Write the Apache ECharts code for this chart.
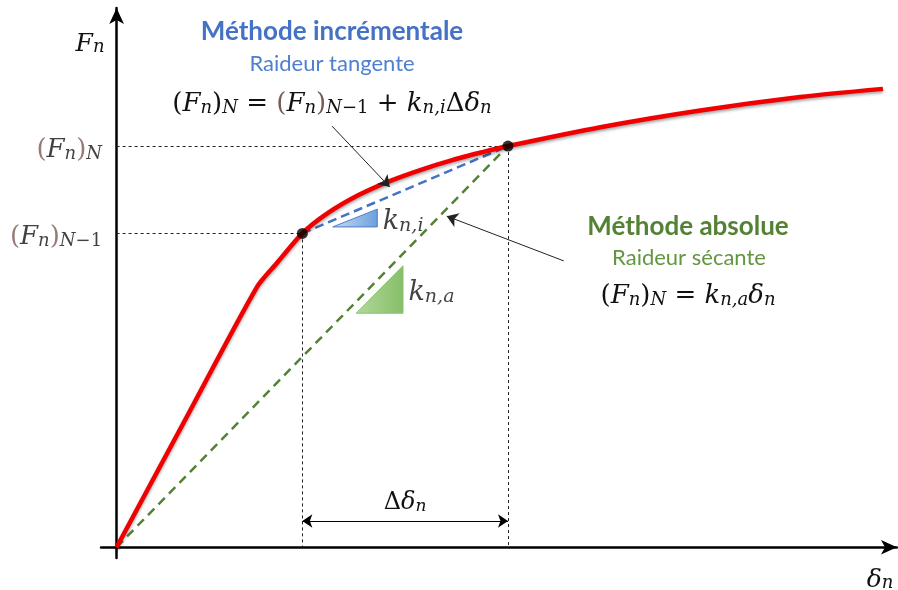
<!DOCTYPE html>
<html>
<head>
<meta charset="utf-8">
<script src="https://cdn.jsdelivr.net/npm/echarts@6/dist/echarts.min.js"></script>
<style>
  html, body { margin: 0; padding: 0; background: #fff; }
  #chart { width: 898px; height: 590px; }
</style>
</head>
<body>
<div id="chart"></div>
<script>
// force-displacement curve (arbitrary units)
var curveDelta = [0, 9.0, 18.0, 20.6, 23.8, 27.0, 31.0, 35.0, 39.0, 43.0, 47.0, 50.15, 62.0, 74.8, 87.6, 98.2];
var curveForce = [0, 24.2, 48.3, 52.8, 58.2, 61.9, 65.3, 67.9, 70.0, 71.8, 73.3, 74.4, 77.9, 81.0, 83.5, 85.0];
var stepPrev = [23.8, 58.2];   // (δn, Fn) at step N-1
var stepCur = [50.15, 74.4];   // (δn, Fn) at step N
var triTangent = [[27.7, 59.4], [33.4, 59.4], [33.4, 62.7]];
var triSecant = [[30.7, 43.4], [36.7, 43.4], [36.7, 52.2]];
var pointerTangent = [[27.6, 78.1], [35.0, 66.8]];
var pointerSecant = [[57.3, 53.1], [42.3, 61.4]];
var spanLevel = 4.86;

(function() {
  var ink = '#111';
  var brown = '#7a5a52';
  var blue = '#4472c4';
  var green = '#548235';
  var serif = 'DejaVu Serif';
  var sans = 'Lato';

  function mathRich(size) {
    var sub = Math.round(size * 0.7);
    function st(o) {
      var base = { fontFamily: serif, fontSize: size, lineHeight: size + 8, verticalAlign: 'bottom', color: ink, fill: ink };
      for (var k in o) base[k] = o[k];
      return base;
    }
    return {
      r: st({}),
      i: st({ fontStyle: 'italic' }),
      p: st({ color: brown, fill: brown }),
      s: st({ fontStyle: 'italic', fontSize: sub, lineHeight: sub }),
      u: st({ fontSize: sub, lineHeight: sub })
    };
  }

  var chart = echarts.init(document.getElementById('chart'), null, { renderer: 'canvas' });

  var curve = curveDelta.map(function(d, i) { return [d, curveForce[i]]; });

  function triangleSeries(tri, c1, c2, edge) {
    return {
      type: 'custom',
      coordinateSystem: 'cartesian2d',
      silent: true,
      z: 3,
      data: [tri[0]],
      renderItem: function(params, api) {
        var pts = tri.map(function(p) { return api.coord(p); });
        return {
          type: 'polygon',
          shape: { points: pts },
          style: {
            fill: new echarts.graphic.LinearGradient(0, 0, 1, 0, [
              { offset: 0, color: c1 }, { offset: 1, color: c2 }
            ]),
            stroke: edge,
            lineWidth: 1
          }
        };
      }
    };
  }

  var guideStyle = { color: '#222', width: 1, type: [3, 3], opacity: 1 };

  chart.setOption({
    animation: false,
    grid: { left: 101, right: 1, top: 8, bottom: 32 },
    xAxis: {
      type: 'value', min: -2, max: 100,
      axisLine: { onZero: true, symbol: ['none', 'arrow'], symbolSize: [11, 16], lineStyle: { color: '#000', width: 2.5 } },
      axisTick: { show: false }, axisLabel: { show: false }, splitLine: { show: false }
    },
    yAxis: {
      type: 'value', min: -2, max: 100,
      axisLine: { onZero: true, symbol: ['none', 'arrow'], symbolSize: [11, 16], lineStyle: { color: '#000', width: 2.5 } },
      axisTick: { show: false }, axisLabel: { show: false }, splitLine: { show: false }
    },
    series: [
      {
        name: 'guides', type: 'lines', coordinateSystem: 'cartesian2d', silent: true, z: 1,
        symbol: 'none', lineStyle: guideStyle,
        data: [
          { coords: [[0, stepPrev[1]], stepPrev] },
          { coords: [[0, stepCur[1]], stepCur] },
          { coords: [stepPrev, [stepPrev[0], 0]] },
          { coords: [stepCur, [stepCur[0], 0]] }
        ]
      },
      {
        name: 'secant', type: 'lines', coordinateSystem: 'cartesian2d', silent: true, z: 2,
        symbol: 'none', lineStyle: { color: green, width: 2.5, type: [9, 6], opacity: 1 },
        data: [{ coords: [[0, 0], stepCur] }]
      },
      {
        name: 'tangent', type: 'lines', coordinateSystem: 'cartesian2d', silent: true, z: 2,
        symbol: 'none', lineStyle: { color: blue, width: 2.5, type: [9, 5], opacity: 1 },
        data: [{ coords: [stepPrev, stepCur] }]
      },
      triangleSeries(triTangent, '#c9dcf2', '#6d9fdc', '#4a7bc8'),
      triangleSeries(triSecant, '#b3d89c', '#86bf68', '#8cc26e'),
      {
        name: 'curve', type: 'line', data: curve, smooth: 0.25, showSymbol: false, z: 4,
        lineStyle: { color: '#f00000', width: 4.5, shadowColor: 'rgba(0,0,0,0.35)', shadowBlur: 3, shadowOffsetY: 2 }
      },
      {
        name: 'points', type: 'scatter', data: [stepPrev, stepCur], symbolSize: 11, z: 6,
        itemStyle: { color: '#000' }
      },
      {
        name: 'pointers', type: 'lines', coordinateSystem: 'cartesian2d', silent: true, z: 5,
        symbol: ['none', 'arrow'], symbolSize: 11,
        lineStyle: { color: '#222', width: 1, opacity: 1 },
        data: [{ coords: pointerTangent }, { coords: pointerSecant }]
      },
      {
        name: 'span', type: 'lines', coordinateSystem: 'cartesian2d', silent: true, z: 5,
        symbol: ['arrow', 'arrow'], symbolSize: 10,
        lineStyle: { color: '#000', width: 1.2, opacity: 1 },
        label: {
          show: true, position: 'middle', distance: 6, opacity: 1,
          formatter: '{r|Δ}{i|δ}{s|n}', rich: mathRich(24)
        },
        data: [{ coords: [[stepPrev[0], spanLevel], [stepCur[0], spanLevel]] }]
      },
      {
        name: 'levelLabels', type: 'scatter', symbolSize: 1, z: 6,
        itemStyle: { color: 'rgba(0,0,0,0)' },
        label: { show: true, position: 'left', distance: 14, rich: mathRich(26) },
        data: [
          { value: [0, stepCur[1]], label: { formatter: '{p|(}{i|F}{s|n}{p|)}{s|N}' } },
          { value: [0, stepPrev[1]], label: { formatter: '{p|(}{i|F}{s|n}{p|)}{s|N}{u|−1}' } }
        ]
      },
      {
        name: 'slopeLabels', type: 'scatter', symbolSize: 1, z: 6,
        itemStyle: { color: 'rgba(0,0,0,0)' },
        label: { show: true, position: 'right', distance: 5, rich: mathRich(27) },
        data: [
          { value: [triTangent[1][0], (triTangent[1][1] + triTangent[2][1]) / 2], label: { formatter: '{i|k}{s|n,i}' } },
          { value: [triSecant[1][0], (triSecant[1][1] + triSecant[2][1]) / 2], label: { formatter: '{i|k}{s|n,a}' } }
        ]
      }
    ],
    graphic: [
      { type: 'text', x: 332, y: 32, style: { text: 'Méthode incrémentale', fontFamily: sans, fontWeight: 'bold', fontSize: 26, fill: blue, align: 'center', verticalAlign: 'middle' } },
      { type: 'text', x: 332, y: 64, style: { text: 'Raideur tangente', fontFamily: sans, fontSize: 22, fill: '#4f7fd0', align: 'center', verticalAlign: 'middle' } },
      { type: 'text', x: 332, y: 100, style: {
        text: '{r|(}{i|F}{s|n}{r|)}{s|N}{r| = }{p|(}{i|F}{s|n}{p|)}{s|N}{u|−1}{r| + }{i|k}{s|n,i}{r|Δ}{i|δ}{s|n}',
        rich: mathRich(26), align: 'center', verticalAlign: 'middle' } },
      { type: 'text', x: 688, y: 227, style: { text: 'Méthode absolue', fontFamily: sans, fontWeight: 'bold', fontSize: 26, fill: green, align: 'center', verticalAlign: 'middle' } },
      { type: 'text', x: 689, y: 258, style: { text: 'Raideur sécante', fontFamily: sans, fontSize: 22, fill: '#62963f', align: 'center', verticalAlign: 'middle' } },
      { type: 'text', x: 688, y: 292, style: {
        text: '{r|(}{i|F}{s|n}{r|)}{s|N}{r| = }{i|k}{s|n,a}{i|δ}{s|n}',
        rich: mathRich(26), align: 'center', verticalAlign: 'middle' } },
      { type: 'text', x: 90, y: 40, style: { text: '{i|F}{s|n}', rich: mathRich(25), align: 'center', verticalAlign: 'middle' } },
      { type: 'text', x: 880, y: 576, style: { text: '{i|δ}{s|n}', rich: mathRich(25), align: 'center', verticalAlign: 'middle' } }
    ]
  });
  window.addEventListener('resize', function() { chart.resize(); });
})();
</script>
</body>
</html>
